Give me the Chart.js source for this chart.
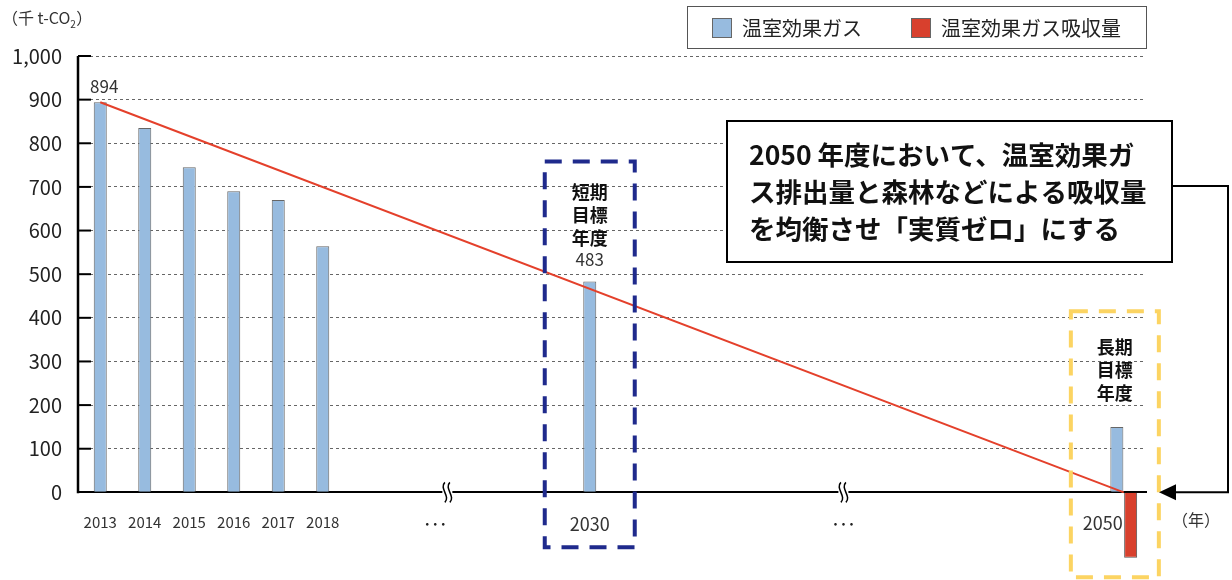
<!DOCTYPE html>
<html lang="ja">
<head>
<meta charset="utf-8">
<script src="https://cdn.jsdelivr.net/npm/chart.js@4.4.1/dist/chart.umd.min.js"></script>
<style>
  html, body { margin: 0; padding: 0; background: #fff; }
  #wrap { width: 1232px; height: 580px; position: relative; }
</style>
</head>
<body>
<div id="wrap"><canvas id="ghgChart"></canvas></div>
<script>
const FONT = '"Noto Sans CJK JP", "Noto Sans", sans-serif';

// slots on the x axis: 2013-2018, gap, 2030, gap, 2050
const categories = ["2013", "2014", "2015", "2016", "2017", "2018", "", "", "", "", "", "2030",
  "", "", "", "", "", "", "", "", "", "", "", "2050"];
const emissions = [894, 835, 745, 690, 670, 564, null, null, null, null, null, 483,
  null, null, null, null, null, null, null, null, null, null, null, 150];
const absorption = [null, null, null, null, null, null, null, null, null, null, null, null,
  null, null, null, null, null, null, null, null, null, null, null, -150];
const pathway = [894, null, null, null, null, null, null, null, null, null, null, null,
  null, null, null, null, null, null, null, null, null, null, null, 0];
const labelledIdx = [0, 11];
const yTicks = [0, 100, 200, 300, 400, 500, 600, 700, 800, 900, 1000];
const seriesNames = ["温室効果ガス", "温室効果ガス吸収量"];
const noteLines = ["2050 年度において、温室効果ガ", "ス排出量と森林などによる吸収量", "を均衡させ「実質ゼロ」にする"];

const BLUE = "#97bbdf";
const RED = "#d8402d";

const decor = {
  id: "decor",
  afterDraw(chart) {
    const ctx = chart.ctx;
    const xs = chart.scales.x, ys = chart.scales.y;
    const area = chart.chartArea;
    const y0 = ys.getPixelForValue(0);
    ctx.save();

    // y axis line and inward ticks
    ctx.strokeStyle = "#000";
    ctx.lineWidth = 2.5;
    ctx.beginPath();
    ctx.moveTo(area.left, y0 + 1);
    ctx.lineTo(area.left, ys.getPixelForValue(1000));
    ctx.stroke();
    ctx.lineWidth = 2;
    yTicks.forEach(v => {
      if (v === 0) return;
      const py = ys.getPixelForValue(v);
      ctx.beginPath();
      ctx.moveTo(area.left, py);
      ctx.lineTo(area.left + 13, py);
      ctx.stroke();
    });

    // axis unit
    ctx.fillStyle = "#333";
    ctx.font = "16px " + FONT;
    ctx.textBaseline = "middle";
    ctx.textAlign = "left";
    ctx.fillText("（千 t-CO", 2, 18);
    const w = ctx.measureText("（千 t-CO").width;
    ctx.font = "10px " + FONT;
    ctx.fillText("2", 2 + w, 24);
    ctx.font = "16px " + FONT;
    ctx.fillText("）", 2 + w + 6, 18);
    ctx.fillText("（年）", 1172, 520);

    // 2050 tick label sits left of its bars
    ctx.font = "18px " + FONT;
    ctx.textAlign = "center";
    ctx.fillText(categories[23], xs.getPixelForValue(23) - 21, y0 + 31);

    // axis breaks and ellipses
    [7.8, 16.7].forEach(i => {
      const px = xs.getPixelForValue(i);
      ctx.fillStyle = "#fff";
      ctx.fillRect(px - 5, y0 - 4, 10, 8);
      ctx.strokeStyle = "#000";
      ctx.lineWidth = 1.5;
      [-2.5, 2.5].forEach(dx => {
        const bx = px + dx;
        ctx.beginPath();
        ctx.moveTo(bx, y0 - 10);
        ctx.bezierCurveTo(bx - 6, y0 - 4, bx + 6, y0 + 4, bx, y0 + 10);
        ctx.stroke();
      });
      ctx.fillStyle = "#222";
      ctx.font = "16px " + FONT;
      ctx.textAlign = "center";
      ctx.fillText("･･･", px - (i < 10 ? 12 : 0), y0 + 32);
    });

    // value labels
    const meta = chart.getDatasetMeta(0);
    ctx.fillStyle = "#333";
    ctx.font = "17px " + FONT;
    ctx.textAlign = "center";
    labelledIdx.forEach(i => {
      const bar = meta.data[i];
      ctx.fillText(String(emissions[i]), bar.x + (i === 0 ? 4 : 0), bar.y - (i === 0 ? 16 : 22));
    });

    // target boxes
    const b30 = meta.data[11];
    ctx.lineWidth = 4;
    ctx.setLineDash([17, 11]);
    ctx.strokeStyle = "#1f2a8c";
    ctx.strokeRect(b30.x - 45, ys.getPixelForValue(758), 90, y0 + 55 - ys.getPixelForValue(758));
    const b50 = meta.data[23];
    ctx.strokeStyle = "#fcd462";
    ctx.strokeRect(b50.x - 46, ys.getPixelForValue(415), 88, y0 + 85 - ys.getPixelForValue(415));
    ctx.setLineDash([]);

    ctx.fillStyle = "#111";
    ctx.font = "bold 18px " + FONT;
    ctx.textAlign = "center";
    ["短期", "目標", "年度"].forEach((t, k) => ctx.fillText(t, b30.x, 192 + k * 23));
    ["長期", "目標", "年度"].forEach((t, k) => ctx.fillText(t, b50.x - 2, 347 + k * 23));

    // note box with connector arrow
    ctx.fillStyle = "#fff";
    ctx.fillRect(727, 121, 445, 141);
    ctx.strokeStyle = "#000";
    ctx.lineWidth = 2;
    ctx.strokeRect(727, 121, 445, 141);
    ctx.fillStyle = "#111";
    ctx.font = "bold 26.5px " + FONT;
    ctx.textAlign = "left";
    noteLines.forEach((t, k) => ctx.fillText(t, 749, 155 + k * 37));
    ctx.beginPath();
    ctx.moveTo(1172, 186);
    ctx.lineTo(1228, 186);
    ctx.lineTo(1228, y0);
    ctx.lineTo(1174, y0);
    ctx.stroke();
    ctx.fillStyle = "#000";
    ctx.beginPath();
    ctx.moveTo(1159, y0);
    ctx.lineTo(1176, y0 - 8);
    ctx.lineTo(1176, y0 + 8);
    ctx.closePath();
    ctx.fill();

    // legend
    ctx.lineWidth = 1;
    ctx.strokeStyle = "#555";
    ctx.strokeRect(687.5, 6.5, 459, 42);
    ctx.font = "20px " + FONT;
    ctx.textBaseline = "middle";
    ctx.textAlign = "left";
    [[712, BLUE], [911, RED]].forEach(([lx, col], k) => {
      ctx.fillStyle = col;
      ctx.fillRect(lx, 18, 20, 20);
      ctx.strokeStyle = "#666";
      ctx.strokeRect(lx + 0.5, 18.5, 19, 19);
      ctx.fillStyle = "#222";
      ctx.fillText(seriesNames[k], lx + 30, 28);
    });
    ctx.restore();
  }
};

const ctx = document.getElementById("ghgChart").getContext("2d");
new Chart(ctx, {
  type: "bar",
  data: {
    labels: categories,
    datasets: [
      {
        label: seriesNames[0],
        data: emissions,
        backgroundColor: BLUE,
        borderColor: "#666",
        borderWidth: 1,
        skipNull: true,
        maxBarThickness: 13,
        order: 2
      },
      {
        label: seriesNames[1],
        data: absorption,
        backgroundColor: RED,
        borderColor: "#555",
        borderWidth: 1,
        skipNull: true,
        maxBarThickness: 13,
        clip: false,
        order: 2
      },
      {
        type: "line",
        label: "pathway",
        data: pathway,
        borderColor: "#e4402b",
        borderWidth: 2,
        pointRadius: 0,
        spanGaps: true,
        order: 1
      }
    ]
  },
  options: {
    responsive: true,
    maintainAspectRatio: false,
    animation: false,
    categoryPercentage: 0.62,
    barPercentage: 0.95,
    layout: { padding: { top: 56, bottom: 20, left: 0, right: 86 } },
    plugins: {
      legend: { display: false },
      tooltip: { enabled: false }
    },
    scales: {
      x: {
        position: { y: 0 },
        offset: true,
        grid: { display: false, drawTicks: false },
        border: { color: "#000", width: 2 },
        ticks: {
          autoSkip: false,
          maxRotation: 0,
          padding: 21,
          color: "#333",
          callback: (v, i) => i === 23 ? "" : categories[i],
          font: c => ({ family: FONT, size: (c.tick && c.tick.label === "2030") ? 18 : 15 })
        }
      },
      y: {
        min: -155,
        max: 1000,
        afterBuildTicks: s => { s.ticks = yTicks.map(v => ({ value: v })); },
        afterFit: s => { s.width = 78; s.paddingBottom = 0; },
        ticks: {
          padding: 16,
          color: "#222",
          font: { family: FONT, size: 20 },
          callback: v => v.toLocaleString("en-US")
        },
        grid: {
          drawTicks: false,
          color: c => (c.tick && c.tick.value > 0) ? "#666" : "transparent",
          lineWidth: 1
        },
        border: { display: false, dash: [3, 3] }
      }
    }
  },
  plugins: [decor]
});
</script>
</body>
</html>
